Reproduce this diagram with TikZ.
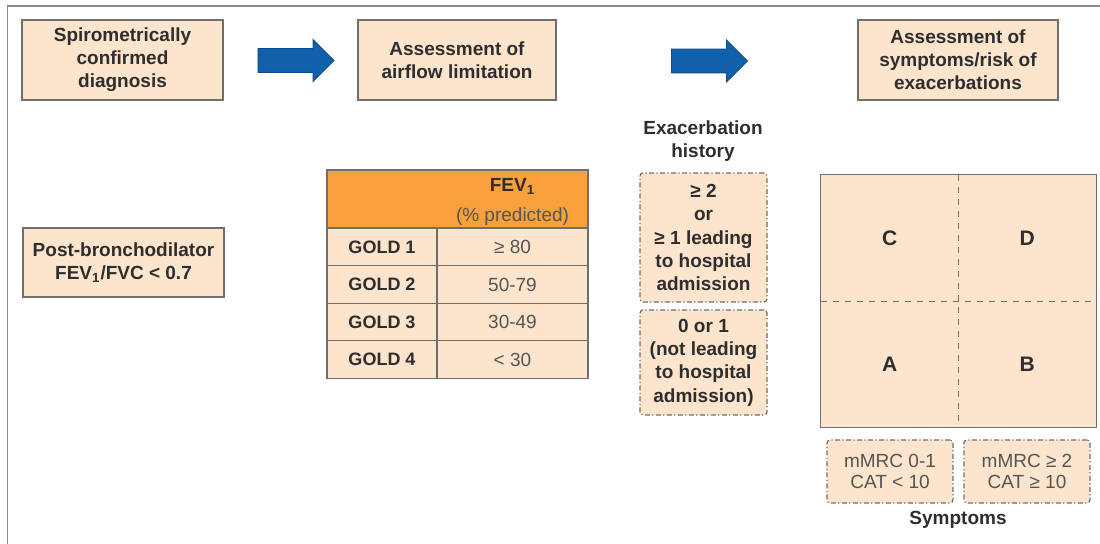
\documentclass[tikz,border=0pt]{standalone}
\usepackage{fontspec}
\setmainfont{Liberation Sans}
\usetikzlibrary{shapes.arrows}
\definecolor{peach}{HTML}{FCE4CD}
\definecolor{goldorange}{HTML}{F7A03C}
\definecolor{boxgrey}{HTML}{6F6F6F}
\definecolor{framegrey}{HTML}{8A8A8A}
\definecolor{arrowblue}{HTML}{1160AC}
\definecolor{textgrey}{HTML}{2E2E2E}
\definecolor{valuegrey}{HTML}{555555}
\begin{document}
\begin{tikzpicture}
			[x=0.5pt, y=-0.5pt, node distance=18.75pt, every node/.style={text=textgrey},
			stepbox/.style	={rectangle, draw=boxgrey, fill=peach, line width=0.8pt, align=center, inner sep=0pt, minimum height=40pt, font=\fontsize{9.5}{11.5}\selectfont\bfseries},
			bigarrow/.style	={single arrow, fill=arrowblue, draw=arrowblue!80!black, line width=0.4pt, inner sep=0pt, text height=11.5pt, text depth=0pt, minimum height=38pt, single arrow head extend=4.5pt},
			goldhead/.style	={rectangle, draw=boxgrey, fill=goldorange, line width=0.6pt, inner sep=0pt, minimum width=130.5pt, minimum height=29pt},
			goldcell/.style	={rectangle, draw=boxgrey, fill=peach, line width=0.6pt, inner sep=0pt, minimum width=55pt, minimum height=18.75pt, font=\fontsize{9}{11}\selectfont\bfseries},
			valcell/.style	={goldcell, minimum width=75.5pt, text=valuegrey, font=\fontsize{9.5}{11}\selectfont},
			dashbox/.style	={rectangle, draw=boxgrey, fill=peach, line width=0.6pt, dash pattern=on 2.5pt off 1.2pt on 0.6pt off 1.2pt, rounded corners=1.5pt, align=center, inner sep=0pt},
			quadrant/.style	={rectangle, fill=peach, inner sep=0pt, minimum width=68.75pt, minimum height=63pt, font=\fontsize{10.5}{12}\selectfont\bfseries},
			heading/.style	={align=center, font=\fontsize{9.5}{11.5}\selectfont\bfseries}]
			\useasboundingbox (0,0) rectangle (1100,544);
			\draw[framegrey, line width=0.8pt] (7.5,544) -- (7.5,6) -- (1100,6);

			\node[stepbox, minimum width=100.5pt]	(spiro)		at (122.5,60)	{Spirometrically\\confirmed\\diagnosis};
			\node[stepbox, minimum width=99pt]		(airflow)	at (457,60)		{Assessment of\\airflow limitation};
			\node[stepbox, minimum width=100pt]		(risk)		at (958,60)		{Assessment of\\symptoms/risk of\\exacerbations};
			\node[bigarrow]							(arrowA)	at (290,60.5)	{};
			\node[bigarrow]							(arrowB)	at (703.5,61)	{};

			\node[stepbox, minimum width=100.5pt, minimum height=34.5pt] (postbd) at (123.5,262.5) {Post-bronchodilator\\FEV\textsubscript{1}/FVC < 0.7};

			\node[goldhead]							(fevhead)	at (457.5,199)	{};
			\node[align=center, font=\fontsize{9.5}{15}\selectfont] (fevtext) at (512.5,202) {\textbf{FEV\textsubscript{1}}\\\textcolor{valuegrey}{(\% predicted)}};
			\node[goldcell]							(gold1)		at (382,247)	{GOLD 1};
			\node[valcell]							(val1)		at (512.5,247)	{≥ 80};
			\node[goldcell, below of=gold1]			(gold2)						{GOLD 2};
			\node[valcell, below of=val1]			(val2)						{50-79};
			\node[goldcell, below of=gold2]			(gold3)						{GOLD 3};
			\node[valcell, below of=val2]			(val3)						{30-49};
			\node[goldcell, below of=gold3]			(gold4)						{GOLD 4};
			\node[valcell, below of=val3]			(val4)						{< 30};

			\node[heading]							(exhist)	at (703,141)	{Exacerbation\\history};
			\node[dashbox, minimum width=63.5pt, minimum height=64.5pt, font=\fontsize{9.5}{11.65}\selectfont\bfseries] (exhigh) at (703.5,237.5) {≥ 2\\or\\≥ 1 leading\\to hospital\\admission};
			\node[dashbox, minimum width=63.5pt, minimum height=52.5pt, font=\fontsize{9.5}{11.65}\selectfont\bfseries] (exlow) at (703.5,362.5) {0 or 1\\(not leading\\to hospital\\admission)};

			\node[quadrant]							(quadC)		at (889.75,238)	{C};
			\node[quadrant]							(quadD)		at (1027.25,238){D};
			\node[quadrant]							(quadA)		at (889.75,364)	{A};
			\node[quadrant]							(quadB)		at (1027.25,364){B};
			\draw[boxgrey, line width=0.8pt] (quadC.north west) rectangle (quadB.south east);
			\draw[boxgrey, line width=0.5pt, dashed] (quadC.north east) -- (quadA.south east);
			\draw[boxgrey, line width=0.5pt, dashed] (quadC.south west) -- (quadD.south east);

			\node[dashbox, minimum width=63pt, minimum height=31.5pt, text=valuegrey, font=\fontsize{9.5}{10.5}\selectfont] (symplow)	at (890,471.5)	{mMRC 0-1\\CAT < 10};
			\node[dashbox, minimum width=63pt, minimum height=31.5pt, text=valuegrey, font=\fontsize{9.5}{10.5}\selectfont] (symphigh)	at (1027,471.5)	{mMRC ≥ 2\\CAT ≥ 10};
			\node[heading]							(symplabel)	at (958,520)	{Symptoms};
		\end{tikzpicture}
\end{document}
